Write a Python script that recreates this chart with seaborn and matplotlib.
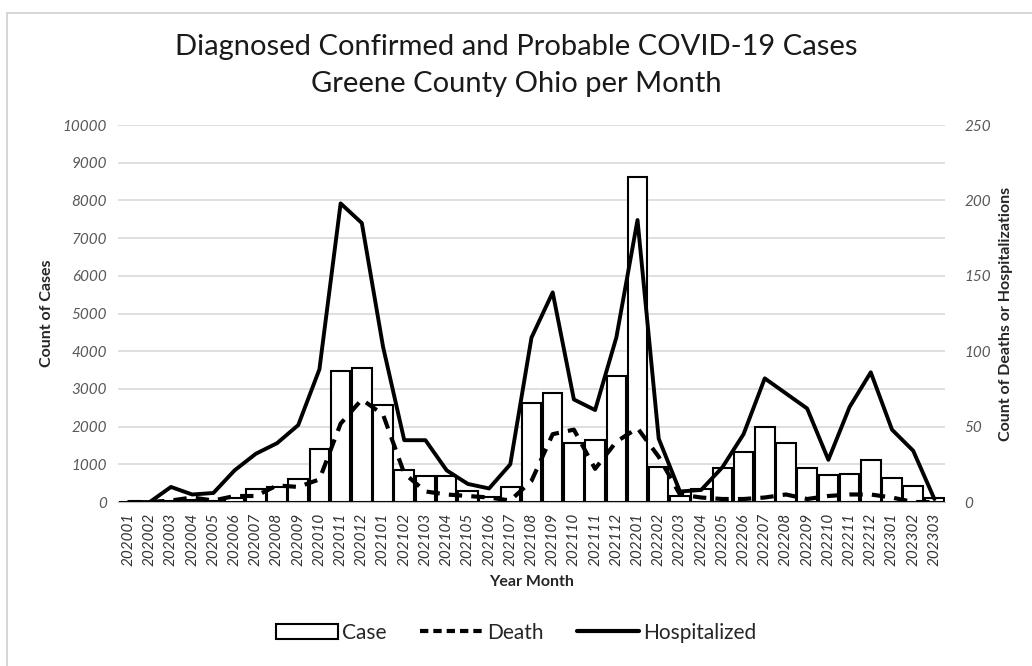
import matplotlib
matplotlib.use("Agg")
import matplotlib.pyplot as plt
import numpy as np
import pandas as pd
import seaborn as sns
from matplotlib.lines import Line2D
from matplotlib.patches import Patch, Rectangle

# Monthly values
months = [
    "202001", "202002", "202003", "202004", "202005", "202006", "202007",
    "202008", "202009", "202010", "202011", "202012", "202101", "202102",
    "202103", "202104", "202105", "202106", "202107", "202108", "202109",
    "202110", "202111", "202112", "202201", "202202", "202203", "202204",
    "202205", "202206", "202207", "202208", "202209", "202210", "202211",
    "202212", "202301", "202302", "202303",
]
cases = [
    0, 0, 20, 50, 30, 100, 350, 400, 600, 1400, 3480, 3560, 2580, 860,
    690, 690, 280, 140, 410, 2630, 2880, 1570, 1640, 3340, 8630, 930,
    160, 340, 900, 1330, 2000, 1560, 900, 715, 740, 1110, 645, 430, 115,
]
deaths = [
    0, 0, 1, 3, 1, 4, 4, 11, 10, 15, 52, 68, 58, 19,
    7, 5, 4, 3, 1, 14, 45, 48, 22, 40, 49, 30,
    5, 3, 2, 2, 3, 5, 2, 4, 5, 5, 3, 0, 0,
]
hospitalized = [
    0, 0, 10, 5, 6, 21, 32, 39, 51, 88, 198, 185, 103, 41,
    41, 21, 12, 9, 25, 109, 139, 68, 61, 109, 187, 42,
    7, 8, 23, 45, 82, 72, 62, 28, 63, 86, 48, 34, 2,
]

df = pd.DataFrame({
    "month": months,
    "case": cases,
    "death": deaths,
    "hosp": hospitalized,
})

sns.set_style("white")
plt.rcParams["font.family"] = ["Lato", "DejaVu Sans"]

fig = plt.figure(figsize=(10.32, 6.66), dpi=100)
ax = fig.add_axes([0.1143, 0.2462, 0.8014, 0.5661])

# Cases as open bars on the left axis
sns.barplot(
    data=df, x="month", y="case", ax=ax, color="white",
    edgecolor="black", linewidth=1.5, width=0.92, saturation=1,
    errorbar=None, zorder=2,
)
ax.set_ylim(0, 10000)
ax.set_yticks(np.arange(0, 10001, 1000))
ax.yaxis.grid(True, color="#d9d9d9", linewidth=1.2, zorder=0)
ax.set_axisbelow(True)
for s in ["top", "right", "left"]:
    ax.spines[s].set_visible(False)
ax.spines["bottom"].set_color("#bfbfbf")

# Deaths and hospitalizations on the right axis
ax2 = ax.twinx()
sns.pointplot(
    data=df, x="month", y="hosp", ax=ax2, color="black", marker="",
    linestyle="-", linewidth=2.8, errorbar=None,
)
sns.pointplot(
    data=df, x="month", y="death", ax=ax2, color="black", marker="",
    linestyle=(0, (3.2, 2.2)), linewidth=3, errorbar=None,
)
ax2.set_ylim(0, 250)
ax2.set_yticks(np.arange(0, 251, 50))
for s in ["top", "right", "left", "bottom"]:
    ax2.spines[s].set_visible(False)
ax.set_xlim(-0.5, len(months) - 0.5)
ax2.set_xlim(-0.5, len(months) - 0.5)

tick_kw = dict(fontsize=11, color="#595959", style="italic")
ax.set_yticklabels([str(v) for v in range(0, 10001, 1000)], **tick_kw)
ax2.set_yticklabels([str(v) for v in range(0, 251, 50)], **tick_kw)
ax.set_xticks(range(len(months)))
ax.set_xticklabels(months, rotation=90, fontsize=11, color="#333333",
                   style="italic")
ax.tick_params(axis="both", length=0, pad=8)
ax2.tick_params(axis="y", length=0, pad=14)

ax.set_xlabel("Year Month", fontsize=11.5, fontweight="bold", labelpad=6)
ax.set_ylabel("Count of Cases", fontsize=11.5, fontweight="bold",
              labelpad=6)
ax2.set_ylabel("Count of Deaths or Hospitalizations", fontsize=11.5,
               fontweight="bold", labelpad=6)

fig.text(0.5, 0.93, "Diagnosed Confirmed and Probable COVID-19 Cases",
         ha="center", va="center", fontsize=21, color="#1a1a1a")
fig.text(0.5, 0.874, "Greene County Ohio per Month",
         ha="center", va="center", fontsize=21, color="#1a1a1a")

handles = [
    Patch(facecolor="white", edgecolor="black", linewidth=1.5),
    Line2D([0], [0], color="black", linewidth=3, linestyle=(0, (2, 1.2))),
    Line2D([0], [0], color="black", linewidth=3),
]
fig.legend(handles, ["Case", "Death", "Hospitalized"], loc="center",
           bbox_to_anchor=(0.5, 0.05), ncol=3, frameon=False, fontsize=15,
           handlelength=3, handletextpad=0.2, columnspacing=1.6)

# light outer frame of the chart area
fig.patches.append(Rectangle((0.007, -0.01), 1.0, 0.99, transform=fig.transFigure,
                             fill=False, edgecolor="#d0d0d0", linewidth=1.2))

fig.savefig("out.png", dpi=100)
